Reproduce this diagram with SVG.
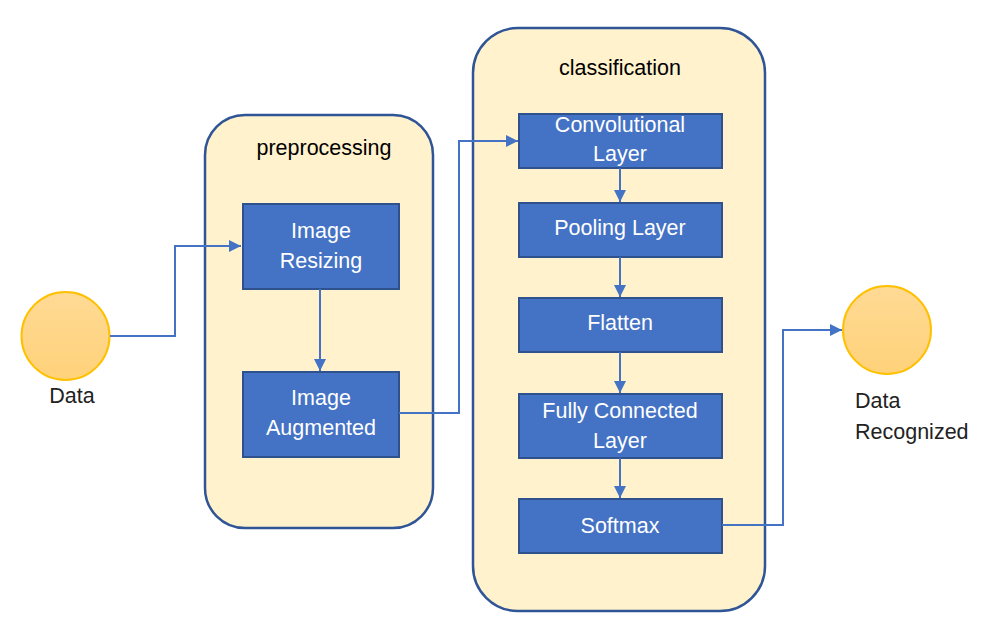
<svg xmlns="http://www.w3.org/2000/svg" width="990" height="623" viewBox="0 0 990 623">
<style>
.cont{fill:#FFF2CC;stroke:#2F5597;stroke-width:2.5}
.box{fill:#4472C4;stroke:#2F528F;stroke-width:2}
.circ{fill:url(#og);stroke:#FFC000;stroke-width:2}
.wt{fill:#FFFFFF;font-family:"Liberation Sans",Arial,sans-serif;font-size:21.5px;text-anchor:middle}
.bt{fill:#000000;font-family:"Liberation Sans",Arial,sans-serif;font-size:21.5px;text-anchor:middle}
.lt{fill:#222222;font-family:"Liberation Sans",Arial,sans-serif;font-size:21.5px}
.con{fill:none;stroke:#4472C4;stroke-width:2}
</style>
<defs>
<linearGradient id="og" x1="0" y1="0" x2="0" y2="1">
<stop offset="0" stop-color="#FFDA95"/>
<stop offset="1" stop-color="#FFD27A"/>
</linearGradient>
<marker id="ah" viewBox="0 0 10 10" refX="10" refY="5" markerWidth="6.5" markerHeight="6" markerUnits="strokeWidth" orient="auto">
<path d="M0,0 L10,5 L0,10 z" fill="#4472C4"/>
</marker>
</defs>
<rect width="990" height="623" fill="#FFFFFF"/>
<g id="preprocessing">
<rect class="cont" x="205" y="115" width="228" height="413" rx="40" ry="40"/>
<text class="bt" x="324" y="155">preprocessing</text>
</g>
<g id="classification">
<rect class="cont" x="473" y="28" width="292" height="583" rx="45" ry="45"/>
<text class="bt" x="620" y="75">classification</text>
</g>
<g id="data">
<circle class="circ" cx="65.5" cy="336" r="44"/>
<text class="lt" x="72" y="403" text-anchor="middle">Data</text>
</g>
<g id="image-resizing">
<rect class="box" x="243" y="204" width="156" height="85"/>
<text class="wt" x="321" y="238">Image</text>
<text class="wt" x="321" y="268">Resizing</text>
</g>
<g id="image-augmented">
<rect class="box" x="243" y="372" width="156" height="85"/>
<text class="wt" x="321" y="405">Image</text>
<text class="wt" x="321" y="435">Augmented</text>
</g>
<g id="convolutional-layer">
<rect class="box" x="519" y="114" width="203" height="54"/>
<text class="wt" x="620" y="132">Convolutional</text>
<text class="wt" x="620" y="161">Layer</text>
</g>
<g id="pooling-layer">
<rect class="box" x="519" y="203" width="203" height="54"/>
<text class="wt" x="620" y="235">Pooling Layer</text>
</g>
<g id="flatten">
<rect class="box" x="519" y="298" width="203" height="54"/>
<text class="wt" x="620" y="330">Flatten</text>
</g>
<g id="fully-connected-layer">
<rect class="box" x="519" y="394" width="203" height="64"/>
<text class="wt" x="620" y="418">Fully Connected</text>
<text class="wt" x="620" y="448">Layer</text>
</g>
<g id="softmax">
<rect class="box" x="519" y="499" width="203" height="54"/>
<text class="wt" x="620" y="533">Softmax</text>
</g>
<g id="data-recognized">
<circle class="circ" cx="887" cy="330" r="44"/>
<text class="lt" x="855" y="408">Data</text>
<text class="lt" x="855" y="439">Recognized</text>
</g>
<g id="connectors">
<polyline class="con" points="110,336 175,336 175,246 241,246" marker-end="url(#ah)"/>
<line class="con" x1="320" y1="289" x2="320" y2="371" marker-end="url(#ah)"/>
<polyline class="con" points="399,413 459,413 459,141 518,141" marker-end="url(#ah)"/>
<line class="con" x1="620" y1="168" x2="620" y2="202" marker-end="url(#ah)"/>
<line class="con" x1="620" y1="257" x2="620" y2="297" marker-end="url(#ah)"/>
<line class="con" x1="620" y1="352" x2="620" y2="393" marker-end="url(#ah)"/>
<line class="con" x1="620" y1="458" x2="620" y2="498" marker-end="url(#ah)"/>
<polyline class="con" points="722,525 783,525 783,330 842,330" marker-end="url(#ah)"/>
</g>
</svg>
